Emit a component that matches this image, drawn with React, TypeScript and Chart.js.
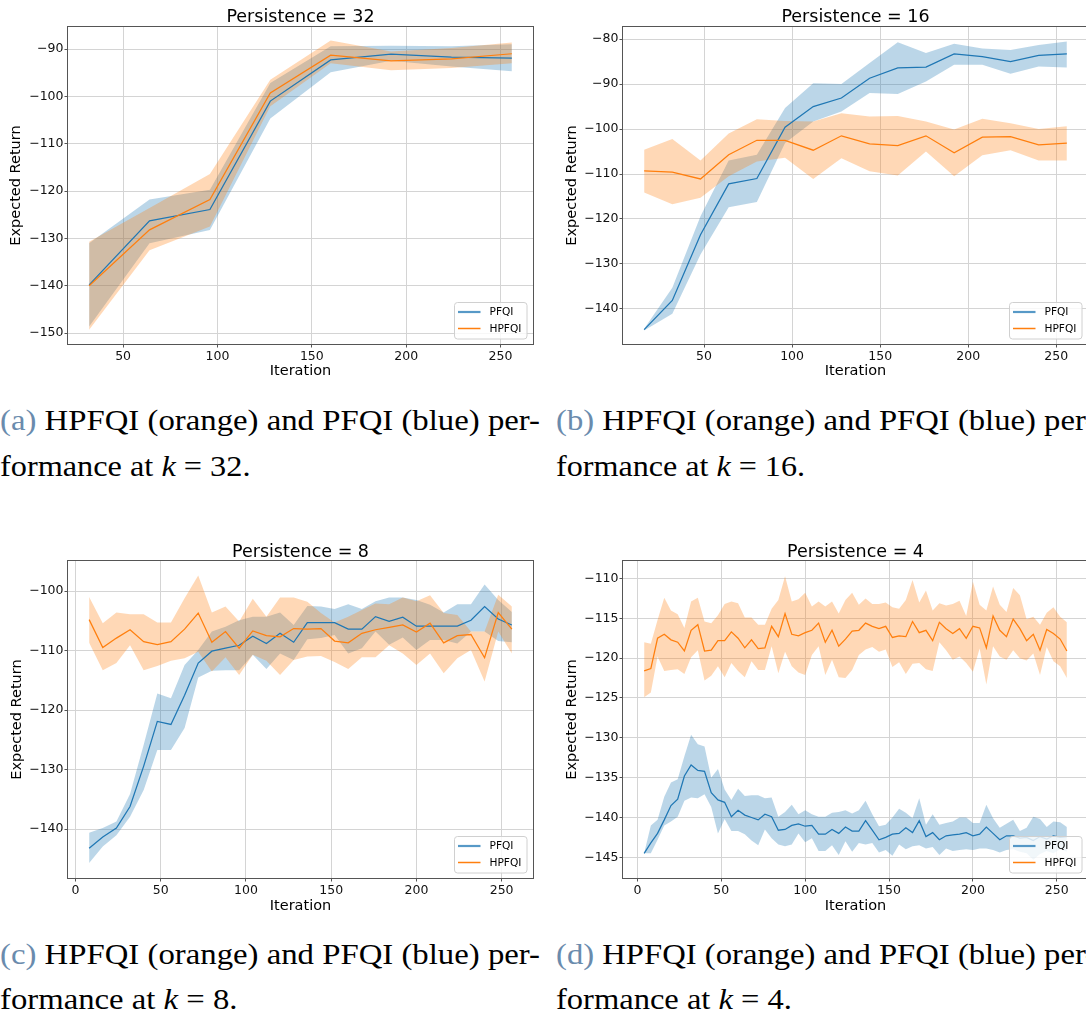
import React, { useEffect, useLayoutEffect, useRef } from 'react';
import { Chart, registerables } from 'chart.js';

Chart.register(...registerables);

// ---------------- data ----------------
const seriesNames = ['PFQI', 'HPFQI'];

// Persistence = 32
const iters32 = [32, 64, 96, 128, 160, 192, 224, 256];
const pfqi32 = [-139.8, -126.3, -123.9, -101.0, -92.3, -91.1, -91.7, -91.9];
const pfqi32Hi = [-131.0, -121.8, -119.7, -97.2, -89.4, -89.3, -89.4, -89.0];
const pfqi32Lo = [-148.6, -131.0, -128.2, -104.7, -94.9, -92.5, -93.7, -94.7];
const hpfqi32 = [-140.0, -128.2, -121.8, -99.3, -91.3, -92.5, -92.1, -91.0];
const hpfqi32Hi = [-130.7, -123.6, -116.4, -96.5, -88.2, -90.5, -89.8, -88.6];
const hpfqi32Lo = [-149.3, -132.5, -127.5, -102.1, -93.0, -94.5, -94.0, -93.0];

// Persistence = 16
const iters16 = [16, 32, 48, 64, 80, 96, 112, 128, 144, 160, 176, 192, 208, 224, 240, 256];
const pfqi16 = [-144.6, -138.1, -123.5, -112.2, -111.0, -99.6, -95.0, -93.1, -88.7, -86.4, -86.2, -83.3, -83.9, -85.0, -83.6, -83.3];
const pfqi16Hi = [-144.4, -135.3, -119.4, -107.0, -105.7, -95.3, -89.8, -90.0, -85.3, -80.7, -83.1, -81.0, -82.1, -82.4, -81.3, -80.5];
const pfqi16Lo = [-144.8, -141.1, -127.9, -117.4, -116.2, -103.1, -98.3, -96.1, -92.0, -92.2, -89.4, -85.7, -85.7, -87.7, -86.1, -86.3];
const hpfqi16 = [-109.3, -109.6, -111.1, -105.7, -102.5, -102.5, -104.7, -101.5, -103.3, -103.7, -101.5, -105.3, -101.8, -101.7, -103.5, -103.1];
const hpfqi16Hi = [-104.6, -102.2, -107.0, -101.0, -97.8, -98.2, -98.3, -96.5, -97.2, -97.1, -98.3, -100.1, -97.7, -98.7, -100.0, -99.4];
const hpfqi16Lo = [-114.1, -116.7, -115.3, -110.5, -107.2, -106.4, -111.1, -106.5, -109.4, -110.3, -105.0, -110.5, -105.8, -104.7, -107.0, -107.0];

// Persistence = 8
const iters8 = [8, 16, 24, 32, 40, 48, 56, 64, 72, 80, 88, 96, 104, 112, 120, 128, 136, 144, 152, 160, 168, 176, 184, 192, 200, 208, 216, 224, 232, 240, 248, 256];
const pfqi8 = [-143.2, -141.3, -139.8, -136.2, -129.4, -121.9, -122.4, -117.5, -112.1, -110.1, -109.6, -109.1, -107.6, -108.8, -107.1, -108.6, -105.3, -105.3, -105.3, -106.4, -106.4, -104.3, -105.1, -104.4, -105.9, -105.9, -105.9, -105.9, -104.9, -102.6, -104.7, -105.7];
const pfqi8Hi = [-140.6, -139.8, -138.7, -134.1, -125.8, -117.2, -118.0, -112.4, -109.9, -106.8, -106.0, -104.9, -104.3, -104.3, -103.6, -105.7, -102.5, -102.6, -103.0, -102.2, -103.0, -101.7, -101.1, -101.1, -101.5, -102.3, -103.6, -102.2, -102.2, -98.9, -101.5, -103.5];
const pfqi8Lo = [-145.7, -142.9, -141.0, -137.9, -133.4, -126.7, -126.7, -123.0, -114.5, -113.4, -113.3, -113.3, -110.7, -113.1, -110.5, -111.6, -108.1, -107.9, -107.4, -110.5, -109.6, -106.8, -109.0, -107.8, -109.9, -108.2, -108.2, -108.8, -106.8, -106.8, -108.4, -108.6];
const hpfqi8 = [-104.8, -109.5, -107.9, -106.5, -108.5, -109.0, -108.5, -106.4, -103.7, -108.6, -106.8, -109.6, -106.7, -107.5, -107.7, -106.3, -106.4, -106.3, -108.4, -108.7, -107.1, -106.5, -106.1, -105.7, -106.9, -105.4, -108.7, -107.5, -107.3, -111.2, -103.6, -106.4];
const hpfqi8Hi = [-101.0, -105.4, -103.6, -103.9, -103.9, -105.3, -105.3, -101.2, -97.4, -103.6, -102.6, -105.1, -101.3, -104.3, -101.1, -101.1, -101.8, -103.7, -105.3, -104.3, -103.2, -102.1, -102.2, -101.1, -101.7, -100.7, -103.7, -104.0, -106.8, -106.8, -100.6, -102.6];
const hpfqi8Lo = [-108.7, -113.3, -112.1, -109.1, -113.3, -112.6, -111.7, -111.3, -110.2, -113.5, -111.1, -114.1, -110.7, -111.7, -114.1, -111.6, -111.0, -110.9, -111.9, -113.1, -111.1, -111.1, -109.1, -110.5, -112.4, -110.5, -113.8, -111.3, -109.9, -115.2, -106.8, -110.5];

// Persistence = 4
const iters4 = [4, 8, 12, 16, 20, 24, 28, 32, 36, 40, 44, 48, 52, 56, 60, 64, 68, 72, 76, 80, 84, 88, 92, 96, 100, 104, 108, 112, 116, 120, 124, 128, 132, 136, 140, 144, 148, 152, 156, 160, 164, 168, 172, 176, 180, 184, 188, 192, 196, 200, 204, 208, 212, 216, 220, 224, 228, 232, 236, 240, 244, 248, 252, 256];
const pfqi4 = [
  -144.5, -143.2, -142.0, -140.3, -138.5, -137.7, -134.8, -133.4, -134.1, -134.2,
  -136.9, -137.8, -138.1, -139.9, -139.1, -139.7, -140.0, -140.3, -139.6, -139.9,
  -141.6, -141.5, -141.0, -140.8, -141.1, -141.0, -142.1, -142.1, -141.5, -142.0,
  -141.2, -141.7, -141.7, -140.4, -141.6, -142.8, -142.5, -142.1, -142.0, -141.3,
  -141.9, -140.4, -142.4, -141.9, -142.8, -142.3, -142.2, -142.1, -141.9, -142.3,
  -142.1, -141.2, -142.0, -142.8, -142.3, -142.3, -142.6, -142.5, -142.9, -142.4,
  -142.7, -142.3, -142.5, -142.4];
const pfqi4Hi = [
  -144.5, -141.0, -140.3, -137.4, -135.6, -135.2, -132.3, -129.6, -130.8, -131.1,
  -135.0, -133.9, -136.5, -137.8, -136.4, -137.3, -137.2, -137.2, -137.6, -137.5,
  -139.9, -139.3, -138.4, -139.6, -139.1, -139.6, -139.9, -139.9, -139.4, -139.3,
  -139.1, -139.5, -139.1, -137.9, -139.6, -141.1, -140.9, -140.0, -138.9, -139.4,
  -140.1, -137.6, -140.9, -139.6, -140.9, -140.7, -140.5, -140.0, -140.0, -140.7,
  -140.7, -138.4, -140.1, -141.3, -140.8, -140.3, -141.7, -141.3, -139.9, -140.2,
  -141.2, -140.5, -140.6, -141.2];
const pfqi4Lo = [
  -144.5, -144.5, -142.8, -141.0, -140.5, -139.9, -137.9, -137.5, -137.6, -137.1,
  -138.7, -142.0, -140.2, -141.7, -141.7, -142.1, -142.9, -143.5, -141.5, -142.6,
  -143.4, -143.6, -143.4, -142.0, -143.1, -142.6, -144.2, -144.2, -143.5, -144.7,
  -143.0, -144.3, -143.2, -143.4, -143.2, -144.4, -144.1, -144.8, -143.4, -144.0,
  -143.6, -143.5, -143.9, -143.7, -144.7, -143.9, -144.2, -144.1, -144.0, -144.1,
  -143.9, -143.9, -144.1, -144.4, -144.1, -144.0, -144.3, -144.5, -145.3, -144.6,
  -144.2, -144.5, -144.0, -144.3];
const hpfqi4 = [
  -121.6, -121.3, -117.5, -117.0, -117.7, -118.0, -119.1, -116.5, -115.8, -119.1,
  -119.0, -117.8, -117.8, -116.7, -117.5, -118.7, -117.7, -118.8, -118.7, -116.0,
  -117.3, -114.4, -117.0, -117.2, -116.8, -116.5, -115.6, -118.0, -116.5, -118.5,
  -117.6, -116.6, -116.5, -115.6, -116.0, -116.3, -116.0, -117.4, -117.2, -117.3,
  -115.4, -116.8, -116.5, -117.8, -115.5, -116.3, -116.9, -116.3, -117.5, -116.0,
  -116.2, -118.7, -114.7, -116.5, -117.3, -115.1, -116.3, -117.8, -117.0, -119.0,
  -116.4, -116.9, -117.6, -119.1];
const hpfqi4Hi = [
  -118.0, -118.2, -115.2, -112.4, -114.0, -114.5, -116.2, -112.9, -112.4, -115.4,
  -115.6, -114.6, -113.2, -112.9, -113.1, -114.9, -114.9, -115.8, -115.8, -113.8,
  -112.7, -109.7, -112.9, -112.6, -111.8, -113.5, -112.9, -113.5, -112.9, -114.4,
  -112.7, -111.8, -113.3, -112.5, -113.2, -113.2, -113.0, -113.6, -113.8, -112.7,
  -110.2, -113.0, -111.5, -114.0, -113.1, -113.4, -113.2, -112.8, -114.7, -110.4,
  -113.3, -114.0, -111.0, -113.3, -114.2, -111.2, -112.1, -115.1, -114.8, -115.8,
  -114.3, -113.6, -114.8, -115.5];
const hpfqi4Lo = [
  -124.9, -124.3, -119.8, -121.6, -121.5, -121.4, -122.0, -119.9, -119.0, -122.8,
  -122.2, -121.0, -122.4, -120.6, -121.6, -122.4, -120.4, -121.5, -121.5, -118.5,
  -121.9, -119.2, -121.0, -121.8, -122.1, -119.6, -118.5, -122.1, -120.2, -122.4,
  -122.5, -121.5, -119.6, -118.9, -118.6, -119.2, -118.9, -121.1, -120.5, -122.0,
  -120.7, -120.6, -121.4, -121.6, -118.0, -119.0, -120.2, -119.8, -120.6, -121.7,
  -118.8, -123.3, -118.5, -119.8, -120.2, -119.0, -120.0, -120.3, -119.4, -122.1,
  -118.6, -120.4, -121.0, -122.5];

// tick labels
const xTicksFrom50 = [50, 100, 150, 200, 250];
const xTicksFrom0 = [0, 50, 100, 150, 200, 250];
const yTicks32 = [-150, -140, -130, -120, -110, -100, -90];
const yTicks16 = [-140, -130, -120, -110, -100, -90, -80];
const yTicks8 = [-140, -130, -120, -110, -100];
const yTicks4 = [-145, -140, -135, -130, -125, -120, -115, -110];

// ---------------- styling / layout ----------------
const FONT = '"DejaVu Sans", Verdana, sans-serif';
const BLUE = '#1f77b4';
const ORANGE = '#ff7f0e';
const BLUE_FILL = 'rgba(31,119,180,0.3)';
const ORANGE_FILL = 'rgba(255,127,14,0.3)';

type Panel = {
  title: string;
  left: number; top: number; W: number; H: number;
  ca: { l: number; t: number; r: number; b: number };
  xMin: number; xMax: number; yMin: number; yMax: number;
  xTicks: number[]; yTicks: number[];
  yTitlePad: number; titleY: number;
  iters: number[];
  pf: number[]; pfLo: number[]; pfHi: number[];
  hp: number[]; hpLo: number[]; hpHi: number[];
};

const panels: Panel[] = [
  {
    title: 'Persistence = 32', left: 0, top: 0, W: 543, H: 395,
    ca: { l: 68, t: 27, r: 533, b: 344 },
    xMin: 20.8, xMax: 267.2, yMin: -152.3, yMax: -85.35,
    xTicks: xTicksFrom50, yTicks: yTicks32, yTitlePad: 7.8, titleY: 17.9,
    iters: iters32, pf: pfqi32, pfLo: pfqi32Lo, pfHi: pfqi32Hi, hp: hpfqi32, hpLo: hpfqi32Lo, hpHi: hpfqi32Hi,
  },
  {
    title: 'Persistence = 16', left: 546, top: 0, W: 560, H: 395,
    ca: { l: 77, t: 27, r: 542, b: 344 },
    xMin: 4, xMax: 268, yMin: -147.8, yMax: -77.3,
    xTicks: xTicksFrom50, yTicks: yTicks16, yTitlePad: 17.3, titleY: 17.9,
    iters: iters16, pf: pfqi16, pfLo: pfqi16Lo, pfHi: pfqi16Hi, hp: hpfqi16, hpLo: hpfqi16Lo, hpHi: hpfqi16Hi,
  },
  {
    title: 'Persistence = 8', left: 0, top: 535, W: 543, H: 395,
    ca: { l: 68, t: 26, r: 533, b: 343 },
    xMin: -4.4, xMax: 268.4, yMin: -148.2, yMax: -94.95,
    xTicks: xTicksFrom0, yTicks: yTicks8, yTitlePad: 8.2, titleY: 17.2,
    iters: iters8, pf: pfqi8, pfLo: pfqi8Lo, pfHi: pfqi8Hi, hp: hpfqi8, hpLo: hpfqi8Lo, hpHi: hpfqi8Hi,
  },
  {
    title: 'Persistence = 4', left: 546, top: 535, W: 560, H: 395,
    ca: { l: 77, t: 26, r: 542, b: 343 },
    xMin: -8.6, xMax: 268.6, yMin: -147.6, yMax: -107.8,
    xTicks: xTicksFrom0, yTicks: yTicks4, yTitlePad: 17.2, titleY: 17.2,
    iters: iters4, pf: pfqi4, pfLo: pfqi4Lo, pfHi: pfqi4Hi, hp: hpfqi4, hpLo: hpfqi4Lo, hpHi: hpfqi4Hi,
  },
];

const fmt = (v: number) => (v < 0 ? '\u2212' + Math.abs(v) : String(v));

function roundRectPath(ctx: CanvasRenderingContext2D, x: number, y: number, w: number, h: number, r: number) {
  ctx.beginPath();
  ctx.moveTo(x + r, y);
  ctx.lineTo(x + w - r, y);
  ctx.arcTo(x + w, y, x + w, y + r, r);
  ctx.lineTo(x + w, y + h - r);
  ctx.arcTo(x + w, y + h, x + w - r, y + h, r);
  ctx.lineTo(x + r, y + h);
  ctx.arcTo(x, y + h, x, y + h - r, r);
  ctx.lineTo(x, y + r);
  ctx.arcTo(x, y, x + r, y, r);
  ctx.closePath();
}

function makeDecor(p: Panel) {
  return {
    id: 'decor',
    afterDatasetsDraw(chart: any) {
      const { ctx, chartArea: a } = chart;
      ctx.save();
      ctx.strokeStyle = '#555';
      ctx.lineWidth = 1;
      ctx.strokeRect(a.left - 0.5, a.top - 0.5, a.right - a.left + 1, a.bottom - a.top + 1);
      ctx.restore();
    },
    afterDraw(chart: any) {
      const { ctx, chartArea: a } = chart;
      ctx.save();
      ctx.font = `17.5px ${FONT}`;
      ctx.fillStyle = '#000';
      ctx.textAlign = 'center';
      ctx.textBaseline = 'middle';
      ctx.fillText(p.title, (a.left + a.right) / 2, p.titleY);

      const bw = 72.5;
      const bh = 36.5;
      const bx = a.right - 6 - bw;
      const by = a.bottom - 5 - bh;
      roundRectPath(ctx, bx, by, bw, bh, 3);
      ctx.fillStyle = 'rgba(255,255,255,0.8)';
      ctx.fill();
      ctx.strokeStyle = '#d0d0d0';
      ctx.lineWidth = 1;
      ctx.stroke();
      const rows = [
        { label: seriesNames[0], color: 'rgba(31,119,180,0.75)', w: 2.2, cy: by + 9.5 },
        { label: seriesNames[1], color: ORANGE, w: 1.5, cy: by + 26 },
      ];
      ctx.font = `10.6px ${FONT}`;
      ctx.textAlign = 'left';
      ctx.textBaseline = 'middle';
      rows.forEach((r) => {
        ctx.strokeStyle = r.color;
        ctx.lineWidth = r.w;
        ctx.beginPath();
        ctx.moveTo(bx + 3.5, r.cy);
        ctx.lineTo(bx + 26, r.cy);
        ctx.stroke();
        ctx.fillStyle = '#000';
        ctx.fillText(r.label, bx + 35, r.cy + 0.5);
      });
      ctx.restore();
    },
  };
}

function ChartPanel({ p }: { p: Panel }) {
  const ref = useRef<HTMLCanvasElement>(null);
  useEffect(() => {
    const canvas = ref.current;
    if (!canvas) return;
    const pts = (ys: number[]) => ys.map((y, i) => ({ x: p.iters[i], y }));
    const hidden = { borderWidth: 0, borderColor: 'rgba(0,0,0,0)', pointRadius: 0, pointHoverRadius: 0 };
    const chart = new Chart(canvas, {
      type: 'line',
      data: {
        datasets: [
          { label: 'PFQI low', data: pts(p.pfLo), fill: false, order: 10, ...hidden },
          { label: 'PFQI high', data: pts(p.pfHi), fill: 0, backgroundColor: BLUE_FILL, order: 10, ...hidden },
          { label: 'HPFQI low', data: pts(p.hpLo), fill: false, order: 9, ...hidden },
          { label: 'HPFQI high', data: pts(p.hpHi), fill: 2, backgroundColor: ORANGE_FILL, order: 9, ...hidden },
          { label: seriesNames[0], data: pts(p.pf), fill: false, order: 2, borderColor: BLUE, borderWidth: 1.25, pointRadius: 0, pointHoverRadius: 0 },
          { label: seriesNames[1], data: pts(p.hp), fill: false, order: 1, borderColor: ORANGE, borderWidth: 1.25, pointRadius: 0, pointHoverRadius: 0 },
        ] as any,
      },
      options: {
        animation: false,
        responsive: false,
        events: [],
        layout: { padding: { left: 0, top: p.ca.t, right: p.W - p.ca.r, bottom: 0 } },
        elements: { line: { tension: 0 } },
        plugins: {
          legend: { display: false },
          title: { display: false },
          tooltip: { enabled: false },
        },
        scales: {
          x: {
            type: 'linear',
            min: p.xMin,
            max: p.xMax,
            bounds: 'data',
            afterBuildTicks: (s: any) => { s.ticks = p.xTicks.map((v) => ({ value: v })); },
            afterFit: (s: any) => { s.height = p.H - p.ca.b; },
            grid: { color: '#d4d4d4', lineWidth: 1, drawTicks: true, tickLength: 3.5, tickColor: '#555', tickWidth: 1 },
            border: { display: false },
            ticks: { autoSkip: false, maxRotation: 0, minRotation: 0, padding: 1.5, color: '#111', font: { family: FONT, size: 12.5 }, callback: (v: any) => fmt(Number(v)) },
            title: { display: true, text: 'Iteration', color: '#000', font: { family: FONT, size: 14.5 }, padding: { top: 0, bottom: 15 } },
          },
          y: {
            type: 'linear',
            min: p.yMin,
            max: p.yMax,
            bounds: 'data',
            afterBuildTicks: (s: any) => { s.ticks = p.yTicks.map((v) => ({ value: v })); },
            afterFit: (s: any) => { s.width = p.ca.l; },
            grid: { color: '#d4d4d4', lineWidth: 1, drawTicks: true, tickLength: 3.5, tickColor: '#555', tickWidth: 1 },
            border: { display: false },
            ticks: { autoSkip: false, padding: 1, color: '#111', font: { family: FONT, size: 12.5 }, callback: (v: any) => fmt(Number(v)) },
            title: { display: true, text: 'Expected Return', color: '#000', font: { family: FONT, size: 14.5 }, padding: { top: p.yTitlePad, bottom: 0 } },
          },
        },
      } as any,
      plugins: [makeDecor(p)],
    });
    return () => chart.destroy();
  }, [p]);
  return (
    <canvas
      ref={ref}
      width={p.W}
      height={p.H}
      style={{ position: 'absolute', left: p.left, top: p.top, width: p.W, height: p.H }}
    />
  );
}

function FitLine({ x, baseline, width, children }: { x: number; baseline: number; width: number; children: React.ReactNode }) {
  const ref = useRef<HTMLDivElement>(null);
  useLayoutEffect(() => {
    const el = ref.current;
    if (!el) return;
    el.style.transform = 'none';
    const w = el.getBoundingClientRect().width;
    if (w > 0) el.style.transform = `scaleX(${width / w})`;
  }, [width]);
  return (
    <div
      ref={ref}
      style={{
        position: 'absolute',
        left: x,
        top: baseline - 24.3,
        width: 'max-content',
        font: '29px "Liberation Serif", "Times New Roman", serif',
        lineHeight: '29px',
        whiteSpace: 'nowrap',
        transformOrigin: '0 0',
        color: '#000',
      }}
    >
      {children}
    </div>
  );
}

const LABEL_COLOR = '#6a8bad';

const captions = [
  { tag: '(a)', k: '32', x: 0, b1: 430.7, b2: 476, w2: 250.5 },
  { tag: '(b)', k: '16', x: 556, b1: 430.7, b2: 476, w2: 249 },
  { tag: '(c)', k: '8', x: 0, b1: 964, b2: 1009.3, w2: 237.5 },
  { tag: '(d)', k: '4', x: 556, b1: 964, b2: 1009.3, w2: 236 },
];

export default function App() {
  return (
    <div
      style={{
        position: 'fixed',
        left: 0,
        top: 0,
        width: 1086,
        height: 1014,
        overflow: 'hidden',
        background: '#fff',
      }}
    >
      {panels.map((p, i) => (
        <ChartPanel key={i} p={p} />
      ))}
      {captions.map((c, i) => (
        <React.Fragment key={i}>
          <FitLine x={c.x} baseline={c.b1} width={540}>
            <span style={{ color: LABEL_COLOR }}>{c.tag}</span> HPFQI (orange) and PFQI (blue) per-
          </FitLine>
          <FitLine x={c.x} baseline={c.b2} width={c.w2}>
            formance at <i>k</i> = {c.k}.
          </FitLine>
        </React.Fragment>
      ))}
    </div>
  );
}
